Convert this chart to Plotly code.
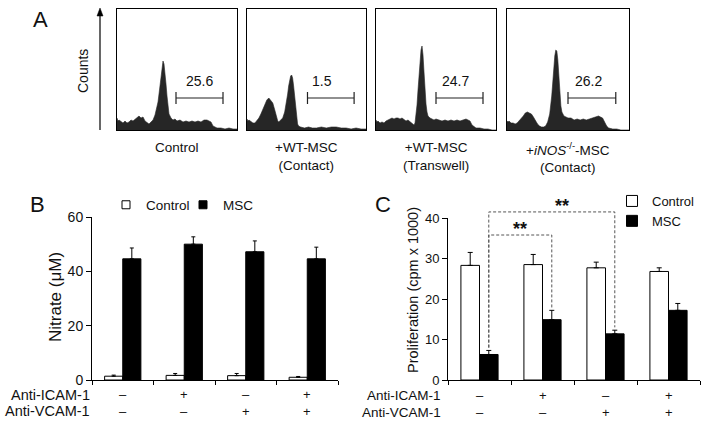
import plotly.graph_objects as go

W, H = 706, 423


def fx(p):
    return p / W


def fy(p):
    return 1 - p / H


FONT = "Liberation Sans, Arial, sans-serif"
INK = "#111111"
HIST_FILL = "#262626"

# ---------------- Panel A data (flow histograms) ----------------
hist_titles = ["Control", "+WT-MSC<br>(Contact)", "+WT-MSC<br>(Transwell)",
               "+<i>iNOS</i><sup>-/-</sup>-MSC<br>(Contact)"]
gate_values = ["25.6", "1.5", "24.7", "26.2"]
gate_lo = [59, 61, 60, 60]
gate_hi = [106, 108, 107, 107]

ctrl_ch = [0, 1, 2, 4, 6, 8, 10, 12, 14, 16, 18, 20, 22, 24, 26, 28, 30, 32, 34, 36, 38, 40, 41, 42, 43,
           44, 45, 46, 47, 48, 49, 50, 51, 52, 54, 56, 58, 60, 63, 66, 69, 72, 75, 78, 81, 84, 87, 90,
           92, 94, 95, 96, 98, 100, 104, 108, 112, 116, 120]
ctrl_counts = [12, 9, 10, 8, 7, 9, 7, 8, 10, 9, 11, 13, 14, 12, 13, 9, 7, 6, 8, 10, 15, 22, 28, 36, 45,
               55, 62, 69, 66, 58, 46, 34, 24, 16, 12, 10, 11, 9, 10, 8, 9, 8, 9, 8, 9, 8, 10, 10,
               9, 8, 6, 4, 3, 2, 2, 1, 2, 1, 1]

wt_contact_ch = [0, 1, 2, 4, 6, 8, 10, 12, 14, 16, 18, 20, 22, 23, 24, 26, 28, 30, 31, 32, 34, 36, 38,
                 40, 41, 42, 43, 44, 45, 46, 47, 48, 49, 50, 51, 52, 54, 58, 62, 66, 70, 75, 80, 85,
                 90, 95, 100, 105, 110, 115, 120]
wt_contact_counts = [11, 9, 10, 8, 7, 7, 9, 12, 16, 21, 26, 30, 32, 31, 30, 27, 20, 12, 9, 8, 10, 12, 18,
                     28, 36, 44, 50, 54, 55, 52, 44, 34, 22, 12, 6, 4, 3, 2, 3, 2, 2, 3, 2, 3,
                     3, 2, 2, 1, 2, 1, 1]

wt_transwell_ch = [0, 1, 2, 4, 6, 8, 10, 12, 14, 16, 18, 20, 22, 24, 26, 28, 30, 32, 34, 36, 38, 39, 40,
                   41, 42, 43, 44, 45, 46, 47, 48, 49, 50, 51, 52, 54, 56, 58, 60, 63, 66, 69, 72, 75,
                   78, 81, 84, 87, 90, 92, 94, 96, 98, 100, 104, 108, 112, 116, 120]
wt_transwell_counts = [10, 8, 9, 7, 8, 7, 9, 10, 11, 12, 11, 12, 12, 11, 12, 10, 9, 10, 8, 6, 5, 7, 14,
                       25, 40, 55, 70, 80, 84, 75, 58, 40, 26, 18, 14, 12, 11, 10, 11, 10, 9, 10, 9, 10,
                       9, 10, 9, 10, 11, 10, 9, 5, 3, 2, 2, 1, 1, 0, 0]

inos_ch = [0, 1, 2, 4, 6, 8, 10, 12, 14, 16, 18, 20, 22, 24, 26, 28, 30, 32, 34, 36, 38, 40, 42, 44, 45,
           46, 47, 48, 49, 50, 51, 52, 53, 54, 56, 58, 60, 63, 66, 69, 72, 75, 78, 81, 84, 87, 90, 92,
           94, 96, 98, 100, 104, 108, 112, 120]
inos_counts = [9, 8, 9, 7, 7, 6, 7, 9, 12, 14, 17, 18, 17, 16, 13, 9, 6, 4, 3, 3, 4, 8, 16, 34, 50,
               64, 74, 80, 79, 70, 52, 36, 24, 18, 14, 13, 12, 12, 10, 11, 10, 11, 10, 11, 12, 13, 14, 13,
               12, 8, 4, 2, 1, 1, 0, 0]

hist_ch = [ctrl_ch, wt_contact_ch, wt_transwell_ch, inos_ch]
hist_counts = [ctrl_counts, wt_contact_counts, wt_transwell_counts, inos_counts]

# ---------------- Panel B / C data ----------------
conditions = ["none", "anti-ICAM-1", "anti-VCAM-1", "both"]
icam_signs = ["–", "+", "–", "+"]
vcam_signs = ["–", "–", "+", "+"]
series_names = ["Control", "MSC"]

nitrate_ctrl = [1.4, 1.7, 1.6, 1.0]
nitrate_ctrl_err = [0.4, 0.7, 0.8, 0.3]
nitrate_msc = [44.6, 50.0, 47.2, 44.6]
nitrate_msc_err = [4.0, 2.7, 4.0, 4.3]

prolif_ctrl = [28.3, 28.5, 27.7, 26.8]
prolif_ctrl_err = [3.2, 2.5, 1.4, 0.9]
prolif_msc = [6.3, 14.9, 11.4, 17.2]
prolif_msc_err = [1.0, 2.3, 0.9, 1.7]

# significance comparisons: (group a, group b, bracket level, label)
sig_pairs = [(0, 2, 41.5, "**"), (0, 1, 35.8, "**")]
sig_label_xshift = [10, 0]

# ---------------- layout geometry ----------------
hist_boxes = [(117, 237), (247, 366), (376, 496), (507, 629)]
hist_top, hist_bot = 9, 130
HIST_XMAX, HIST_YMAX = 120, 121
GATE_LEVEL, GATE_TICK, GATE_TEXT_Y = 32, 6, 49
gate_text_x = [82, 76, 79, 80]

BARGAP = 0.41
idx = list(range(len(conditions)))
boundaries = [i - 0.5 for i in range(len(conditions) + 1)]
series_colors = ["white", "black"]


def ax_id(n):
    return "" if n == 1 else str(n)


fig = go.Figure()
layout = dict(
    width=W, height=H, margin=dict(l=0, r=0, t=0, b=0, autoexpand=False),
    paper_bgcolor="white", plot_bgcolor="rgba(0,0,0,0)",
    font=dict(family=FONT, color=INK, size=13),
    barmode="group", bargap=BARGAP, bargroupgap=0,
    showlegend=True,
)
annotations = []
shapes = []


def note(text, x, y, xref="paper", yref="paper", size=13, xanchor="center", yanchor="middle", **kw):
    annotations.append(dict(text=text, x=x, y=y, xref=xref, yref=yref, showarrow=False,
                            xanchor=xanchor, yanchor=yanchor, font=dict(size=size), **kw))


axis_line = dict(showline=True, linecolor="#000", linewidth=1, showgrid=False, zeroline=False)

# ---- Panel A ----
for k in range(4):
    s = ax_id(k + 1)
    xa, ya = "x" + s, "y" + s
    fig.add_trace(go.Scatter(
        x=hist_ch[k], y=hist_counts[k], mode="lines", fill="tozeroy",
        line=dict(color=HIST_FILL, width=0.6), fillcolor=HIST_FILL,
        xaxis=xa, yaxis=ya, showlegend=False, hoverinfo="skip"))
    lo, hi = gate_lo[k], gate_hi[k]
    fig.add_trace(go.Scatter(
        x=[lo, lo, lo, hi, hi, hi],
        y=[GATE_LEVEL + GATE_TICK, GATE_LEVEL - GATE_TICK, GATE_LEVEL, GATE_LEVEL,
           GATE_LEVEL + GATE_TICK, GATE_LEVEL - GATE_TICK],
        mode="lines", line=dict(color="#222", width=1.2),
        xaxis=xa, yaxis=ya, showlegend=False, hoverinfo="skip"))
    x0, x1 = hist_boxes[k]
    layout["xaxis" + s] = dict(domain=[fx(x0), fx(x1)], range=[0, HIST_XMAX], anchor=ya,
                               mirror=True, showticklabels=False, ticks="", **axis_line)
    layout["yaxis" + s] = dict(domain=[fy(hist_bot), fy(hist_top)], range=[0, HIST_YMAX], anchor=xa,
                               mirror=True, showticklabels=False, ticks="", **axis_line)
    note(gate_values[k], gate_text_x[k], GATE_TEXT_Y, xref=xa, yref=ya, size=14)
    note(hist_titles[k], 0.5, fy(138), xref=xa + " domain", yanchor="top", size=13.5, align="center")

note("A", fx(40), fy(20), size=22)
note("Counts", fx(83), fy(71), size=14, textangle=-90)
# y arrow of the histogram row
shapes.append(dict(type="line", xref="paper", yref="paper", x0=fx(100), x1=fx(100), y0=fy(130), y1=fy(14),
                   line=dict(color="#000", width=1.2)))
shapes.append(dict(type="path", xref="paper", yref="paper", fillcolor="#000", line=dict(color="#000", width=0.5),
                   path=f"M {fx(97)} {fy(16)} L {fx(100)} {fy(8)} L {fx(103)} {fy(16)} Z"))

# ---- Panel B ----
for vals, errs, name, col in ((nitrate_ctrl, nitrate_ctrl_err, series_names[0], series_colors[0]),
                              (nitrate_msc, nitrate_msc_err, series_names[1], series_colors[1])):
    fig.add_trace(go.Bar(x=idx, y=vals, name=name, marker=dict(color=col, line=dict(color="#000", width=1)),
                         error_y=dict(type="data", array=errs, arrayminus=[0] * len(errs), color="#000",
                                      thickness=1, width=2),
                         xaxis="x5", yaxis="y5", showlegend=False))
    fig.add_trace(go.Scatter(x=[None], y=[None], mode="markers", name=name,
                             marker=dict(symbol="square", size=8, color=col, line=dict(color="#000", width=1)),
                             xaxis="x5", yaxis="y5", legend="legend"))
layout["xaxis5"] = dict(domain=[fx(92), fx(338)], range=[-0.5, 3.5], anchor="y5",
                        tickvals=boundaries, ticks="outside", ticklen=4, tickcolor="#000",
                        showticklabels=False, **axis_line)
layout["yaxis5"] = dict(domain=[fy(380), fy(217)], range=[0, 60], anchor="x5",
                        tickvals=[0, 20, 40, 60], ticks="outside", ticklen=5, tickcolor="#000",
                        tickfont=dict(size=14), **axis_line)
note("Nitrate (μM)", fx(55), fy(297), size=17, textangle=-90)
note("B", fx(37), fy(205), size=22)
for label, ypx in (("Anti-ICAM-1", 395), ("Anti-VCAM-1", 411)):
    note(label, fx(92), fy(ypx), xanchor="right", size=14.5)
for i in idx:
    note(icam_signs[i], i, fy(394), xref="x5", size=13)
    note(vcam_signs[i], i, fy(411), xref="x5", size=13)

# ---- Panel C ----
for vals, errs, name, col in ((prolif_ctrl, prolif_ctrl_err, series_names[0], series_colors[0]),
                              (prolif_msc, prolif_msc_err, series_names[1], series_colors[1])):
    fig.add_trace(go.Bar(x=idx, y=vals, name=name, marker=dict(color=col, line=dict(color="#000", width=1)),
                         error_y=dict(type="data", array=errs, arrayminus=[0] * len(errs), color="#000",
                                      thickness=1, width=2.5),
                         xaxis="x6", yaxis="y6", showlegend=False))
    fig.add_trace(go.Scatter(x=[None], y=[None], mode="markers", name=name,
                             marker=dict(symbol="square", size=11, color=col, line=dict(color="#000", width=1)),
                             xaxis="x6", yaxis="y6", legend="legend2"))
layout["xaxis6"] = dict(domain=[fx(448), fx(700)], range=[-0.5, 3.5], anchor="y6",
                        tickvals=boundaries, ticks="outside", ticklen=4, tickcolor="#000",
                        showticklabels=False, **axis_line)
layout["yaxis6"] = dict(domain=[fy(380), fy(218)], range=[0, 40], anchor="x6",
                        tickvals=[0, 10, 20, 30, 40], ticks="outside", ticklen=5, tickcolor="#000",
                        tickfont=dict(size=13), **axis_line)
# invisible axes with the same scale, extended upward for the significance brackets
C_PX_PER_UNIT = (380 - 218) / 40
C_TOP = 45
layout["xaxis7"] = dict(domain=[fx(448), fx(700)], range=[-0.5, 3.5], anchor="y7", visible=False)
layout["yaxis7"] = dict(domain=[fy(380), fy(380 - C_TOP * C_PX_PER_UNIT)], range=[0, C_TOP], anchor="x7",
                        visible=False)
msc_off = (1 - BARGAP) / 4
for (a, b, level, star), xs in zip(sig_pairs, sig_label_xshift):
    ya_end = prolif_msc[a] + prolif_msc_err[a] + 0.7
    yb_end = prolif_msc[b] + prolif_msc_err[b] + 0.7
    fig.add_trace(go.Scatter(
        x=[a + msc_off, a + msc_off, b + msc_off, b + msc_off], y=[ya_end, level, level, yb_end],
        mode="lines", line=dict(color="#555", width=1, dash="3px,2px"),
        xaxis="x7", yaxis="y7", showlegend=False, hoverinfo="skip"))
    note(f"<b>{star}</b>", (a + b) / 2 + msc_off, level, xref="x7", yref="y7", yanchor="bottom",
         size=18, yshift=-6, xshift=xs)

note("Proliferation (cpm x 1000)", fx(413), fy(290), size=14.5, textangle=-90)
note("C", fx(383), fy(205), size=22)
for label, ypx in (("Anti-ICAM-1", 395), ("Anti-VCAM-1", 412)):
    note(label, fx(443), fy(ypx), xanchor="right", size=13.5)
for i in idx:
    note(icam_signs[i], i, fy(395), xref="x6", size=13)
    note(vcam_signs[i], i, fy(412), xref="x6", size=13)

layout["legend"] = dict(orientation="h", x=fx(106), y=fy(205), xanchor="left", yanchor="middle",
                        bgcolor="rgba(0,0,0,0)", font=dict(size=13.5), traceorder="normal",
                        entrywidth=32, entrywidthmode="pixels", itemsizing="trace")
layout["legend2"] = dict(orientation="v", x=fx(612), y=fy(186), xanchor="left", yanchor="top",
                         bgcolor="rgba(0,0,0,0)", font=dict(size=13), traceorder="normal",
                         itemsizing="trace", tracegroupgap=0)
layout["annotations"] = annotations
layout["shapes"] = shapes
fig.update_layout(**layout)

fig.write_html("out.html", config={"displayModeBar": False},
               post_script="document.body.style.margin='0px';")
